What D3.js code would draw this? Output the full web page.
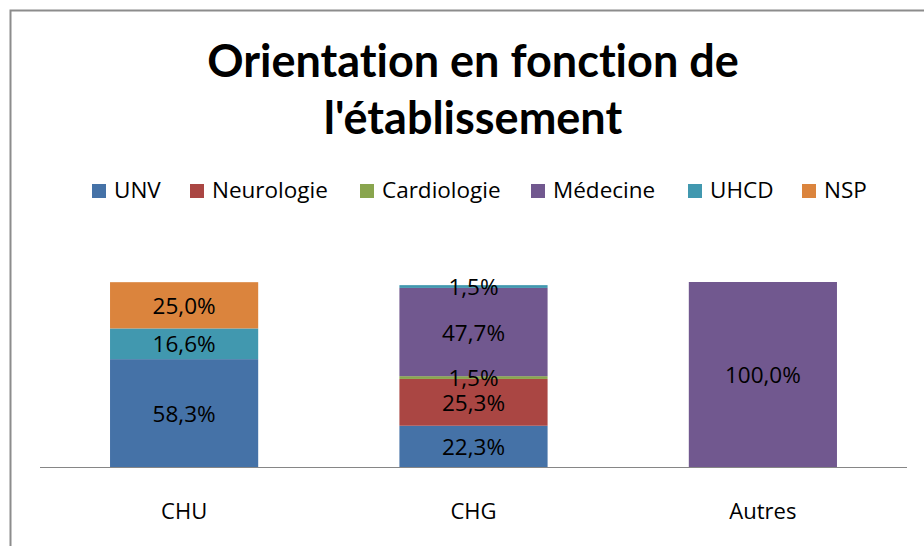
<!DOCTYPE html>
<html>
<head>
<meta charset="utf-8">
<script src="https://cdn.jsdelivr.net/npm/d3@7"></script>
<style>
  html, body { margin: 0; padding: 0; background: #fff; }
  svg { display: block; }
  text { font-family: "Open Sans", "Noto Sans", sans-serif; fill: #000; font-variant-ligatures: none; }
</style>
</head>
<body>
<svg id="chart" width="924" height="546"></svg>
<script>
// Établissements (catégories de l'axe X)
const categories = ["CHU", "CHG", "Autres"];
// Orientations (séries empilées)
const seriesNames = ["UNV", "Neurologie", "Cardiologie", "Médecine", "UHCD", "NSP"];
const seriesColors = ["#4572A7", "#AA4643", "#89A54E", "#71588F", "#4198AF", "#DB843D"];
// Pourcentages par série, dans l'ordre des catégories
const UNV         = [58.3, 22.3, 0];
const Neurologie  = [0, 25.3, 0];
const Cardiologie = [0, 1.5, 0];
const Medecine    = [0, 47.7, 100.0];
const UHCD        = [16.6, 1.5, 0];
const NSP         = [25.0, 0, 0];
const seriesValues = [UNV, Neurologie, Cardiologie, Medecine, UHCD, NSP];

const titleLines = ["Orientation en fonction de", "l'établissement"];

const svg = d3.select("#chart");
const W = 924, H = 546;

// Cadre du graphique
svg.append("rect")
  .attr("x", 10.5).attr("y", 10.5)
  .attr("width", W).attr("height", H)
  .attr("fill", "none").attr("stroke", "#8c8c8c").attr("stroke-width", 2);

// Titre
svg.append("text")
  .attr("text-anchor", "middle")
  .attr("font-weight", "bold")
  .attr("font-size", 45)
  .style("font-family", "Lato, \"Open Sans\", sans-serif")
  .selectAll("tspan").data(titleLines).join("tspan")
  .attr("x", 473)
  .attr("y", (d, i) => 77 + i * 57)
  .text(d => d);

// Légende
const legendX = [92, 190, 360, 531, 688, 802];
const legend = svg.append("g").selectAll("g").data(seriesNames).join("g")
  .attr("transform", (d, i) => `translate(${legendX[i]},184)`);
legend.append("rect").attr("width", 14).attr("height", 14)
  .attr("fill", (d, i) => seriesColors[i]);
legend.append("text").attr("x", 22).attr("y", 14)
  .attr("font-size", 22.5).text(d => d);

// Échelles
const x = d3.scaleBand().domain(categories).range([40, 907])
  .paddingInner(0.488).paddingOuter(0.242);
const y = d3.scaleLinear().domain([0, 100]).range([467, 282]);

// Données empilées
const rows = categories.map((c, j) => {
  const r = { cat: c };
  seriesNames.forEach((s, i) => { r[s] = seriesValues[i][j]; });
  return r;
});
const stacked = d3.stack().keys(seriesNames)(rows);

// Segments des barres
const layers = svg.append("g").selectAll("g").data(stacked).join("g")
  .attr("fill", (d, i) => seriesColors[i]);
layers.selectAll("rect").data(d => d.filter(p => p[1] - p[0] > 0)).join("rect")
  .attr("x", d => x(d.data.cat))
  .attr("width", x.bandwidth())
  .attr("y", d => y(d[1]))
  .attr("height", d => y(d[0]) - y(d[1]));

// Étiquettes de valeurs, au-dessus de tous les segments
const fmt = v => v.toFixed(1).replace(".", ",") + "%";
const segments = stacked.flatMap(layer => layer.filter(p => p[1] - p[0] > 0));
svg.append("g").selectAll("text").data(segments).join("text")
  .attr("x", d => x(d.data.cat) + x.bandwidth() / 2)
  .attr("y", d => y((d[0] + d[1]) / 2))
  .attr("dy", "0.38em")
  .attr("text-anchor", "middle")
  .attr("font-size", 22.5)
  .text(d => fmt(d[1] - d[0]));

// Axe des catégories
const axis = svg.append("g").attr("transform", "translate(0,467)")
  .call(d3.axisBottom(x).tickSize(0).tickPadding(36));
axis.select(".domain").attr("stroke", "#868686").attr("d", "M40,0.5H907");
axis.selectAll(".tick text").attr("font-size", 22)
  .attr("font-family", "\"Open Sans\", \"Noto Sans\", sans-serif").attr("fill", "#000");
</script>
</body>
</html>
